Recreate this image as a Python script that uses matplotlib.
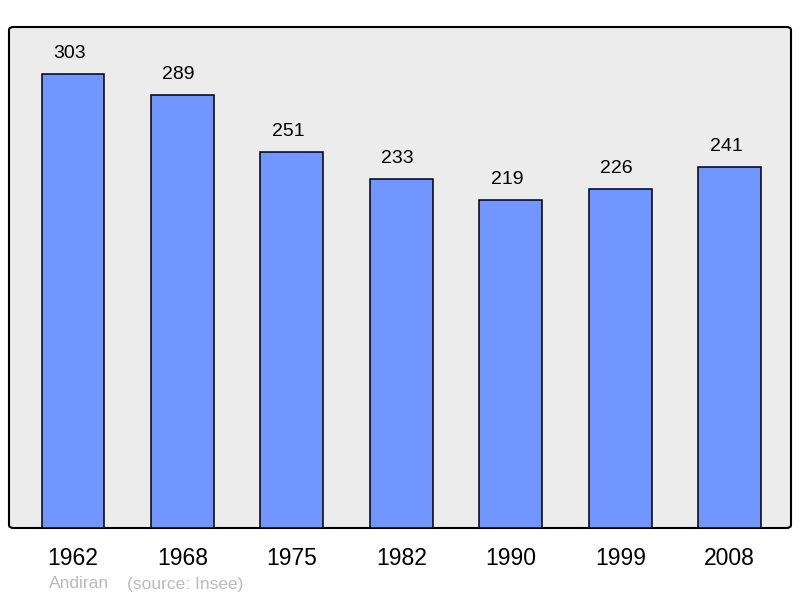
import numpy as np
import matplotlib.pyplot as plt
from matplotlib.patches import FancyBboxPatch

years = ['1962', '1968', '1975', '1982', '1990', '1999', '2008']
population = [303, 289, 251, 233, 219, 226, 241]

plt.rcParams['font.family'] = ['Liberation Sans', 'DejaVu Sans']

fig = plt.figure(figsize=(8, 5.98), dpi=100)
ax = fig.add_axes([9 / 800, 70 / 598, 782 / 800, 501 / 598])
ax.set_xlim(-0.585, 6.56)
ax.set_ylim(0, 334)
ax.set_facecolor('none')
for s in ax.spines.values():
    s.set_visible(False)

# rounded grey frame
frame = FancyBboxPatch((0, 0), 1, 1, boxstyle='round,pad=0,rounding_size=0.006',
                       transform=ax.transAxes, facecolor='#ececec',
                       edgecolor='black', linewidth=1.5, zorder=0, clip_on=False)
ax.add_patch(frame)

x = np.arange(len(years))
bars = ax.bar(x, population, width=0.575, color='#7196ff', edgecolor='black',
              linewidth=1.1, zorder=2)

for xi, v in zip(x, population):
    ax.text(xi - 0.035, v + 13.5, str(v), ha='center', va='center', fontsize=14)

ax.set_xticks(x)
ax.set_xticklabels(years, fontsize=16.5)
ax.tick_params(axis='x', length=0, pad=14)
ax.set_yticks([])

fig.text(49 / 800, 1 - 584 / 598, 'Andiran', color='#bbbbbb', fontsize=12.5, va='center')
fig.text(127 / 800, 1 - 584 / 598, '(source: Insee)', color='#bbbbbb', fontsize=12.5, va='center')

fig.savefig('out.png', dpi=100)
